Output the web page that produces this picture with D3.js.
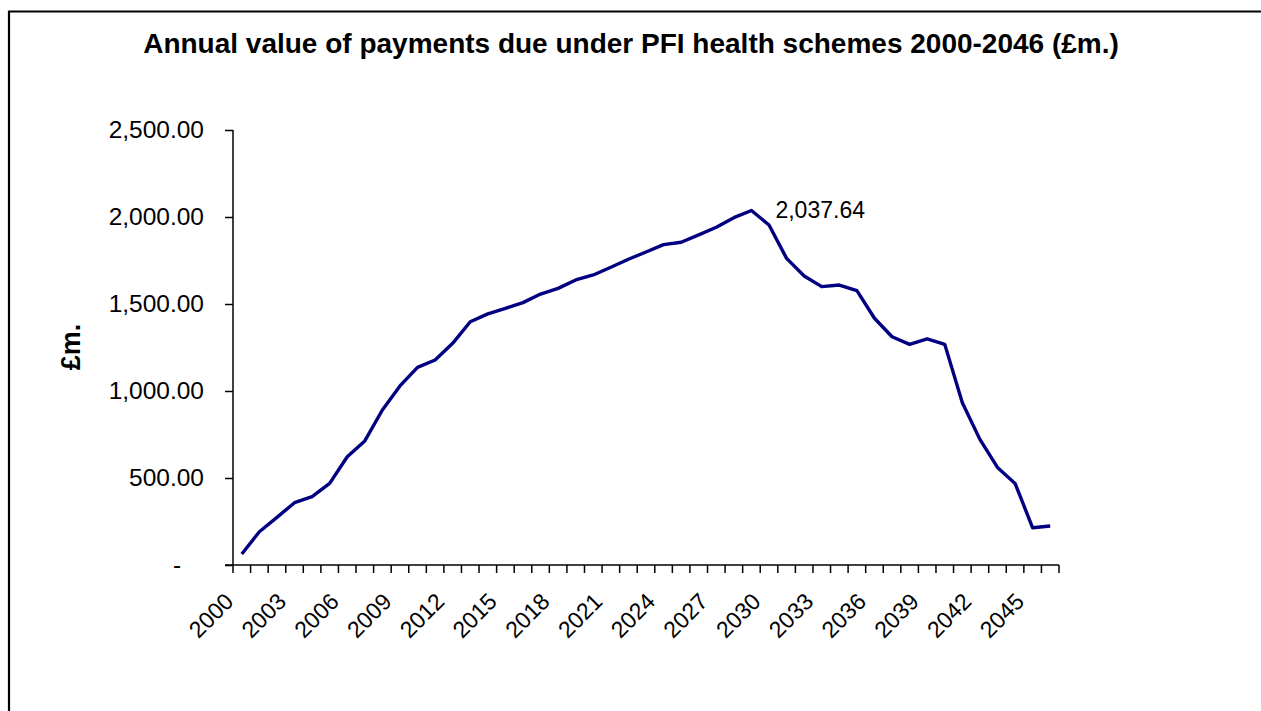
<!DOCTYPE html>
<html>
<head>
<meta charset="utf-8">
<script src="https://cdn.jsdelivr.net/npm/d3@7"></script>
<style>
  body { margin: 0; background: #fff; }
  svg { display: block; font-family: Arial, "Liberation Sans", sans-serif; }
</style>
</head>
<body>
<div id="chart"></div>
<script>
// payments due per year (£m.)
const years = d3.range(2000, 2047);
const payments = [
    63, 191, 274, 358, 393, 469, 622, 713, 891, 1029,
    1136, 1178, 1274, 1398, 1443, 1475, 1508, 1557, 1590, 1638,
    1667, 1711, 1757, 1799, 1841, 1855, 1897, 1941, 1996, 2037.64,
    1954, 1762, 1661, 1600, 1609, 1577, 1418, 1312, 1268, 1299,
    1268, 933, 722, 561, 469, 214, 224
];
const labelYears = [2000, 2003, 2006, 2009, 2012, 2015, 2018, 2021, 2024, 2027, 2030, 2033, 2036, 2039, 2042, 2045];
const yTicks = [0, 500, 1000, 1500, 2000, 2500];
const peakYear = 2029;

const data = years.map((y, i) => ({ year: y, value: payments[i] }));

const width = 1261, height = 711;
const margin = { top: 130, right: 202, bottom: 146, left: 233 };
const innerW = width - margin.left - margin.right;
const innerH = height - margin.top - margin.bottom;

const svg = d3.select('#chart')
    .append('svg')
    .attr('width', width)
    .attr('height', height);

// chart frame (right and bottom edges fall outside the picture)
svg.append('path')
    .attr('d', `M9,${height + 2}V11.5H${width + 2}`)
    .attr('fill', 'none')
    .attr('stroke', '#000')
    .attr('stroke-width', 2.2);

svg.append('text')
    .attr('x', 631)
    .attr('y', 53)
    .attr('text-anchor', 'middle')
    .style('font-size', '28px')
    .style('font-weight', 'bold')
    .text('Annual value of payments due under PFI health schemes 2000-2046 (£m.)');

const chart = svg.append('g')
    .attr('transform', `translate(${margin.left},${margin.top})`);

const xScale = d3.scaleBand()
    .domain(years)
    .range([0, innerW])
    .padding(0);

const yScale = d3.scaleLinear()
    .domain([0, 2500])
    .range([innerH, 0]);

// y axis
const yAxis = d3.axisLeft(yScale)
    .tickValues(yTicks)
    .tickSize(8)
    .tickPadding(21)
    .tickFormat(d => d === 0 ? '-' : d3.format(',.2f')(d));

const yAxisG = chart.append('g')
    .attr('class', 'axis y-axis')
    .call(yAxis);

yAxisG.select('.domain').remove();
yAxisG.selectAll('line').attr('stroke', '#000').attr('stroke-width', 1.5);
yAxisG.selectAll('text')
    .style('font-size', '24.5px')
    .attr('fill', '#000');
yAxisG.selectAll('.tick')
    .filter(d => d === 0)
    .select('text')
    .attr('x', -56)
    .attr('text-anchor', 'middle');

chart.append('line')
    .attr('x1', 0).attr('x2', 0)
    .attr('y1', 0).attr('y2', innerH)
    .attr('stroke', '#000')
    .attr('stroke-width', 1.5);

// x axis: tick marks between categories
const xAxisG = chart.append('g')
    .attr('class', 'axis x-axis')
    .attr('transform', `translate(0,${innerH})`);

xAxisG.append('line')
    .attr('x1', -8).attr('x2', innerW)
    .attr('stroke', '#000')
    .attr('stroke-width', 1.5);

const boundaries = years.map(y => xScale(y)).concat([innerW]);
xAxisG.selectAll('.xtick')
    .data(boundaries)
    .join('line')
    .attr('class', 'xtick')
    .attr('x1', d => d).attr('x2', d => d)
    .attr('y1', 0).attr('y2', 8)
    .attr('stroke', '#000')
    .attr('stroke-width', 1.5);

xAxisG.selectAll('.xlabel')
    .data(labelYears)
    .join('text')
    .attr('class', 'xlabel')
    .attr('transform', d => `translate(${xScale(d) + xScale.bandwidth() / 2 - 7},38) rotate(-45)`)
    .attr('text-anchor', 'end')
    .style('font-size', '23px')
    .attr('fill', '#000')
    .text(d => d);

// y axis title
svg.append('text')
    .attr('transform', 'translate(80,347) rotate(-90)')
    .attr('text-anchor', 'middle')
    .style('font-size', '27px')
    .style('font-weight', 'bold')
    .text('£m.');

// the line
const line = d3.line()
    .x(d => xScale(d.year) + xScale.bandwidth() / 2)
    .y(d => yScale(d.value));

chart.append('path')
    .datum(data)
    .attr('fill', 'none')
    .attr('stroke', '#000080')
    .attr('stroke-width', 3.4)
    .attr('stroke-linejoin', 'round')
    .attr('d', line);

// peak label
const peak = data.find(d => d.year === peakYear);
chart.append('text')
    .attr('x', xScale(peak.year) + xScale.bandwidth() / 2 + 24)
    .attr('y', yScale(peak.value) + 8)
    .style('font-size', '23px')
    .attr('fill', '#000')
    .text(d3.format(',.2f')(peak.value));
</script>
</body>
</html>
